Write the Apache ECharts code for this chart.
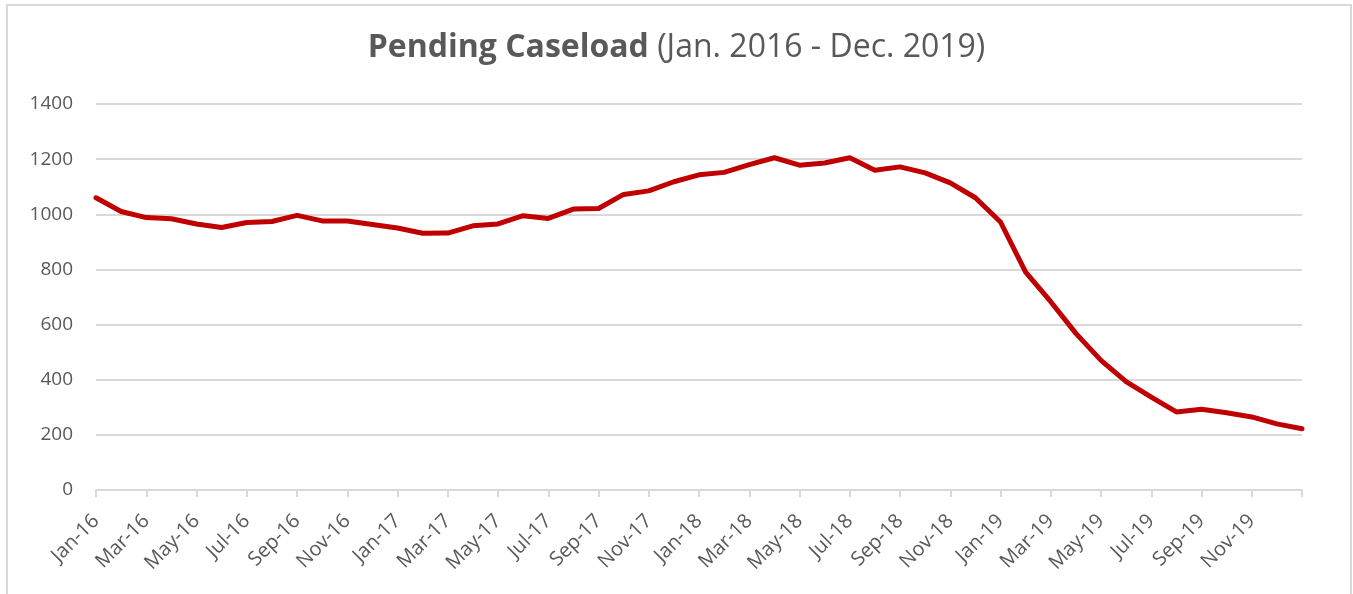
<!DOCTYPE html>
<html>
<head>
<meta charset="utf-8">
<script src="https://cdn.jsdelivr.net/npm/echarts@6/dist/echarts.min.js"></script>
<style>
html,body{margin:0;padding:0;background:#fff;}
#chart{width:1353px;height:594px;}
</style>
</head>
<body>
<div id="chart"></div>
<script>
const months = ['Jan-16','Feb-16','Mar-16','Apr-16','May-16','Jun-16','Jul-16','Aug-16','Sep-16','Oct-16','Nov-16','Dec-16',
  'Jan-17','Feb-17','Mar-17','Apr-17','May-17','Jun-17','Jul-17','Aug-17','Sep-17','Oct-17','Nov-17','Dec-17',
  'Jan-18','Feb-18','Mar-18','Apr-18','May-18','Jun-18','Jul-18','Aug-18','Sep-18','Oct-18','Nov-18','Dec-18',
  'Jan-19','Feb-19','Mar-19','Apr-19','May-19','Jun-19','Jul-19','Aug-19','Sep-19','Oct-19','Nov-19','Dec-19',
  'Jan-20'];
const pending = [1060,1010,988,984,965,952,970,974,996,976,976,963,
  950,931,932,958,965,995,985,1019,1021,1072,1085,1118,
  1143,1152,1180,1205,1178,1186,1205,1160,1172,1150,1114,1060,
  972,790,683,568,470,393,337,283,293,280,265,240,
  222];
const titleBold = 'Pending Caseload';
const titleRest = '(Jan. 2016 - Dec. 2019)';

const chart = echarts.init(document.getElementById('chart'));
chart.setOption({
  backgroundColor: '#ffffff',
  animation: false,
  title: {
    text: '{b|' + titleBold + '}{n| ' + titleRest + '}',
    left: 'center',
    top: 27,
    textStyle: {
      rich: {
        b: {fontFamily: 'Open Sans', fontWeight: 'bold', fontSize: 32, color: '#595959'},
        n: {fontFamily: 'Open Sans', fontWeight: 'normal', fontSize: 32, color: '#595959'}
      }
    }
  },
  graphic: [{
    type: 'rect',
    shape: {x: 7, y: 5, width: 1344, height: 600},
    style: {fill: 'none', stroke: '#d9d9d9', lineWidth: 2},
    silent: true
  }],
  grid: {left: 96, right: 51, top: 104, bottom: 104, containLabel: false},
  xAxis: {
    type: 'category',
    data: months,
    boundaryGap: false,
    axisLine: {show: true, lineStyle: {color: '#d9d9d9', width: 2}},
    axisTick: {show: true, interval: 1, length: 7, lineStyle: {color: '#d9d9d9', width: 2}},
    axisLabel: {
      interval: 1,
      rotate: 45,
      margin: 28,
      color: '#595959',
      fontFamily: 'Open Sans',
      fontSize: 20,
      formatter: function (v, i) { return i === months.length - 1 ? '' : v; }
    },
    splitLine: {show: false}
  },
  yAxis: {
    type: 'value',
    min: 0,
    max: 1400,
    interval: 200,
    axisLine: {show: false},
    axisTick: {show: false},
    axisLabel: {color: '#595959', fontFamily: 'Open Sans', fontSize: 19, margin: 23,
      formatter: function (v) { return String(v); }},
    splitLine: {lineStyle: {color: '#d9d9d9', width: 2}}
  },
  series: [{
    type: 'line',
    data: pending,
    symbol: 'none',
    lineStyle: {color: '#c00000', width: 5, cap: 'round', join: 'round'},
    itemStyle: {color: '#c00000'}
  }]
});
</script>
</body>
</html>
